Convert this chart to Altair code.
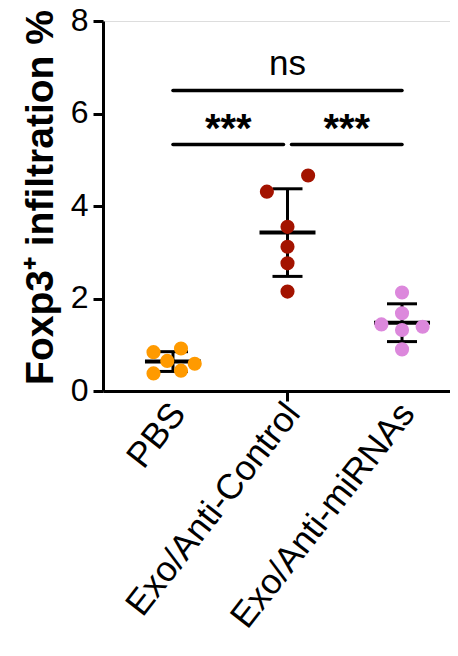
import altair as alt
import pandas as pd

groups = ["PBS", "Exo/Anti-Control", "Exo/Anti-miRNAs"]
colors = ["#FF9A00", "#A31300", "#DC88DC"]

pbs = [0.84, 0.92, 0.65, 0.59, 0.38, 0.44]
ctrl = [4.31, 4.66, 3.55, 3.12, 2.76, 2.15]
mir = [2.13, 1.68, 1.44, 1.39, 1.32, 0.90]

# horizontal spread of overlapping dots (in category units)
pbs_dx = [-0.17, 0.07, -0.05, 0.19, -0.17, 0.07]
ctrl_dx = [-0.18, 0.18, 0.0, 0.0, 0.0, 0.0]
mir_dx = [0.0, 0.0, -0.18, 0.18, 0.0, 0.0]

y_ticks = [0, 2, 4, 6, 8]

sig_x1 = [0, 0, 1.035]
sig_x2 = [2, 0.965, 2]
sig_y = [6.5, 5.33, 5.33]
sig_text = ["ns", "***", "***"]
sig_text_x = [1, 0.4825, 1.5175]
sig_text_y = [6.84, 5.38, 5.38]

rows = []
for gi, (vals, dxs) in enumerate([(pbs, pbs_dx), (ctrl, ctrl_dx), (mir, mir_dx)]):
    for v, d in zip(vals, dxs):
        rows.append({"group": groups[gi], "g": gi, "xpos": gi + d, "value": v})
df = pd.DataFrame(rows)

sig_lines = pd.DataFrame({"x1": sig_x1, "x2": sig_x2, "y": sig_y})
sig_labels = pd.DataFrame({"x": sig_text_x, "y": sig_text_y, "label": sig_text})

FONT = "Liberation Sans"
label_expr = "[" + ",".join("'" + g + "'" for g in groups) + "][datum.value]"

xscale = alt.Scale(domain=[-0.611, 2.419], nice=False, zero=False)
yscale = alt.Scale(domain=[0, 8], nice=False)

xaxis = alt.Axis(
    values=[0, 1, 2], labelExpr=label_expr, labelAngle=308, labelAlign="right",
    labelBaseline="middle", labelFontSize=35.5, labelFont=FONT, labelColor="black",
    labelPadding=6, labelOffset=5, labelLimit=600, tickSize=10, tickWidth=3, tickColor="black",
    tickOpacity={"condition": {"test": "datum.value == 1", "value": 1}, "value": 0},
    domainWidth=3, domainColor="black", grid=False, title=None, labelOverlap=False,
)
yaxis = alt.Axis(
    values=y_ticks, labelFontSize=32, labelFont=FONT, labelColor="black",
    labelPadding=5, labelOffset=-1, tickSize=10, tickWidth=3, tickColor="black",
    domainWidth=3, domainColor="black", grid=False,
    title="Foxp3⁺ infiltration %", titleFont=FONT, titleFontSize=39,
    titleFontWeight="bold", titleColor="black", titleAngle=270,
    titleAlign="center", titleBaseline="alphabetic", titleX=-51, titleY=176,
)

base = alt.Chart(df)

summary = base.transform_aggregate(
    mean="mean(value)", sd="stdev(value)", groupby=["g"]
).transform_calculate(
    lo="datum.mean - datum.sd", hi="datum.mean + datum.sd"
)

vline = summary.mark_rule(color="black", strokeWidth=3).encode(
    x=alt.X("g:Q", scale=xscale, axis=xaxis),
    y=alt.Y("lo:Q", scale=yscale, axis=yaxis),
    y2="hi:Q",
)
cap_lo = summary.mark_tick(orient="horizontal", size=30, thickness=3, color="black", opacity=1).encode(
    x=alt.X("g:Q", scale=xscale, axis=xaxis),
    y=alt.Y("lo:Q", scale=yscale, axis=yaxis),
)
cap_hi = summary.mark_tick(orient="horizontal", size=30, thickness=3, color="black", opacity=1).encode(
    x=alt.X("g:Q", scale=xscale, axis=xaxis),
    y=alt.Y("hi:Q", scale=yscale, axis=yaxis),
)
mean_line = summary.mark_tick(orient="horizontal", size=56, thickness=4, color="black", opacity=1).encode(
    x=alt.X("g:Q", scale=xscale, axis=xaxis),
    y=alt.Y("mean:Q", scale=yscale, axis=yaxis),
)
points = base.mark_circle(size=200, opacity=1).encode(
    x=alt.X("xpos:Q", scale=xscale, axis=xaxis),
    y=alt.Y("value:Q", scale=yscale, axis=yaxis),
    color=alt.Color("group:N", scale=alt.Scale(domain=groups, range=colors), legend=None),
)

lines = alt.Chart(sig_lines).mark_rule(color="black", strokeWidth=3.5, strokeCap="round").encode(
    x=alt.X("x1:Q", scale=xscale, axis=xaxis),
    x2="x2:Q",
    y=alt.Y("y:Q", scale=yscale, axis=yaxis),
)
ns_text = alt.Chart(sig_labels).transform_filter("datum.label == 'ns'").mark_text(
    font=FONT, fontSize=35, color="black", baseline="alphabetic", align="center"
).encode(
    x=alt.X("x:Q", scale=xscale, axis=xaxis),
    y=alt.Y("y:Q", scale=yscale, axis=yaxis),
    text="label:N",
)
star_text = alt.Chart(sig_labels).transform_filter("datum.label != 'ns'").mark_text(
    font=FONT, fontSize=40, fontWeight="bold", color="black", baseline="alphabetic", align="center"
).encode(
    x=alt.X("x:Q", scale=xscale, axis=xaxis),
    y=alt.Y("y:Q", scale=yscale, axis=yaxis),
    text="label:N",
)

chart = alt.layer(
    vline, cap_lo, cap_hi, mean_line, points, lines, ns_text, star_text
).properties(
    width=347, height=370,
    autosize=alt.AutoSizeParams(type="none"),
    padding={"left": 95, "top": 13, "right": 0, "bottom": 249},
).configure_view(stroke=None).configure(font=FONT)

chart.save("out.html", embed_options={"renderer": "svg", "actions": False})
